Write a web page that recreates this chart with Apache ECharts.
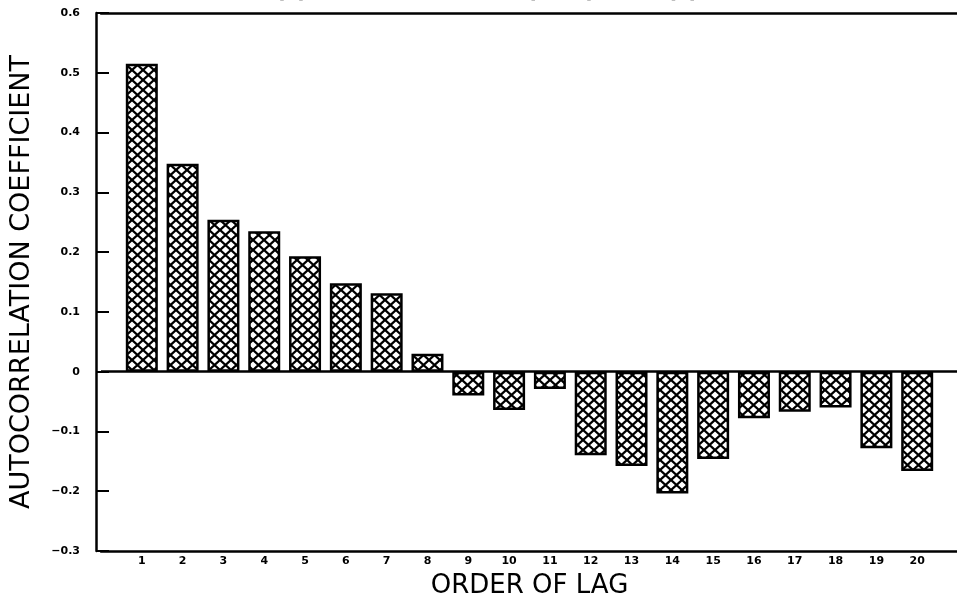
<!DOCTYPE html>
<html>
<head>
<meta charset="utf-8">
<script src="https://cdn.jsdelivr.net/npm/echarts@6/dist/echarts.min.js"></script>
<style>html,body{margin:0;padding:0;background:#fff;}#c{width:957px;height:601px;}</style>
</head>
<body>
<div id="c"></div>
<script>
const lags = [1,2,3,4,5,6,7,8,9,10,11,12,13,14,15,16,17,18,19,20];
const acf = [0.515,0.348,0.254,0.235,0.193,0.148,0.131,0.030,-0.040,-0.064,-0.029,-0.140,-0.158,-0.204,-0.146,-0.078,-0.067,-0.060,-0.128,-0.166];
const yTicks = [-0.3,-0.2,-0.1,0,0.1,0.2,0.3,0.4,0.5,0.6];
const titleText = 'Y(t)  =  0.2  +  0.5 Y(t\u22121)  +  E(t)';

// crosshatch pattern
const pc = document.createElement('canvas');
pc.width = 11; pc.height = 10;
const ctx = pc.getContext('2d');
ctx.fillStyle = '#fff'; ctx.fillRect(0,0,11,10);
ctx.strokeStyle = '#000'; ctx.lineWidth = 2.2;
ctx.beginPath();
ctx.moveTo(-1,-1); ctx.lineTo(12,11);
ctx.moveTo(12,-1); ctx.lineTo(-1,11);
ctx.stroke();

const chart = echarts.init(document.getElementById('c'));
const font = 'DejaVu Sans';
chart.setOption({
  animation: false,
  backgroundColor: '#fff',
  title: {
    text: titleText, left: 'center', top: -26,
    textStyle: {fontFamily: font, fontSize: 24, fontWeight: 'bold', color: '#000'}
  },
  grid: {left: 101, right: -1, top: 13, bottom: 50, outerBoundsMode: 'none', containLabel: false},
  xAxis: [{
    type: 'value', min: 0, max: 21, interval: 1, position: 'bottom',
    name: 'ORDER OF LAG', nameLocation: 'middle', nameGap: 22,
    nameTextStyle: {fontFamily: font, fontSize: 26, color: '#000'},
    axisLine: {show: true, onZero: false, lineStyle: {color: '#000', width: 2.5}},
    axisTick: {show: false},
    splitLine: {show: false},
    axisLabel: {
      margin: 5, fontFamily: font, fontSize: 11, fontWeight: 'bold', color: '#000',
      formatter: v => (v >= 1 && v <= 20) ? String(v) : ''
    }
  }, {
    type: 'value', min: 0, max: 21, position: 'top',
    axisLine: {show: true, onZero: false, lineStyle: {color: '#000', width: 2.5}},
    axisTick: {show: false}, axisLabel: {show: false}, splitLine: {show: false}
  }],
  yAxis: {
    type: 'value', min: -0.3, max: 0.6, interval: 0.1, offset: 5,
    name: 'AUTOCORRELATION COEFFICIENT', nameLocation: 'middle', nameGap: 61,
    nameTextStyle: {fontFamily: font, fontSize: 27, color: '#000'},
    axisLine: {show: true, onZero: false, lineStyle: {color: '#000', width: 2.5}},
    axisTick: {show: true, inside: true, length: 13, lineStyle: {color: '#000', width: 2}},
    splitLine: {show: false},
    axisLabel: {
      margin: 16, fontFamily: font, fontSize: 11, fontWeight: 'bold', color: '#000',
      formatter: v => {
        const r = Math.round(v * 10) / 10;
        const t = yTicks.find(x => Math.abs(x - r) < 1e-9);
        if (t === undefined) return '';
        if (t === 0) return '0';
        return (t < 0 ? '\u2212' : '') + Math.abs(t).toFixed(1);
      }
    }
  },
  series: [{
    type: 'bar',
    barWidth: 32,
    data: lags.map((l, i) => [l, acf[i]]),
    itemStyle: {
      color: {image: pc, repeat: 'repeat'},
      borderColor: '#000', borderWidth: 2.5
    },
    markLine: {
      silent: true, symbol: ['none','none'], label: {show: false},
      lineStyle: {color: '#000', width: 2.5, type: 'solid'},
      data: [{yAxis: 0}]
    }
  }]
});
</script>
</body>
</html>
